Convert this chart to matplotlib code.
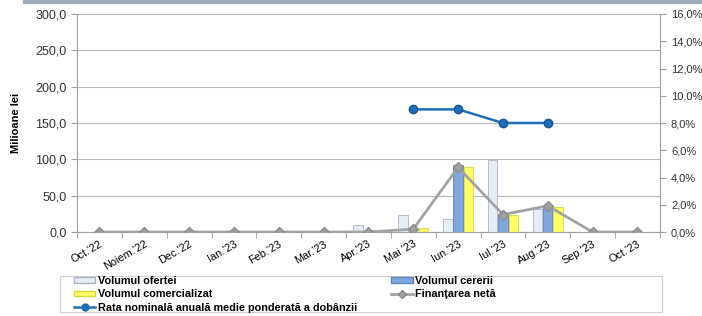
import numpy as np
import matplotlib
matplotlib.use("Agg")
import matplotlib.pyplot as plt
from matplotlib.ticker import FuncFormatter, MultipleLocator
from matplotlib.lines import Line2D
from matplotlib.patches import Rectangle

plt.rcParams['font.family'] = ['Liberation Sans', 'DejaVu Sans']

months = ["Oct.'22", "Noiem.'22", "Dec.'22", "Ian.'23", "Feb.'23", "Mar.'23", "Apr.'23",
          "Mai '23", "Iun.'23", "Iul.'23", "Aug.'23", "Sep.'23", "Oct.'23"]
oferta = [0, 0, 0, 0, 0, 0, 9, 24, 18, 99, 31, 0, 0]
cerere = [0, 0, 0, 0, 0, 0, 0, 0, 92, 25, 35, 0, 0]
comercializat = [0, 0, 0, 0, 0, 0, 0, 6, 90, 24, 35, 0, 0]
finantare = [0, 0, 0, 0, 0, 0, 0, 4, 89, 24, 36, 0, 0]
rata = [np.nan] * 7 + [9.0, 9.0, 8.0, 8.0] + [np.nan] * 2

fig = plt.figure(figsize=(7.02, 3.16), dpi=100)
ax = fig.add_axes([0.1097, 0.2658, 0.8303, 0.6899])
ax2 = ax.twinx()

x = np.arange(len(months))
w = 0.21
off = 0.23
ax.bar(x - off, oferta, w, color='#e6edf7', edgecolor='#a9b4c2', linewidth=0.6, zorder=2)
ax.bar(x, cerere, w, color='#7fa7dd', edgecolor='#5d84b8', linewidth=0.6, zorder=2)
ax.bar(x + off, comercializat, w, color='#ffff66', edgecolor='#d6d63a', linewidth=0.6, zorder=2)
ax.plot(x, finantare, color='#a3a3a3', linewidth=2, marker='D', markersize=5,
        markerfacecolor='#a0a0a0', markeredgecolor='#8c8c8c', zorder=3)
ax2.plot(x, rata, color='#1f6eb8', linewidth=1.8, marker='o', markersize=6,
         markerfacecolor='#1f6eb8', markeredgecolor='#165590', zorder=3)

ax.set_xlim(-0.5, len(months) - 0.5)
ax.set_ylim(0, 300)
ax2.set_ylim(0, 16)
ax.yaxis.set_major_locator(MultipleLocator(50))
ax2.yaxis.set_major_locator(MultipleLocator(2))
ax.yaxis.set_major_formatter(FuncFormatter(lambda v, p: f"{v:.1f}".replace('.', ',')))
ax2.yaxis.set_major_formatter(FuncFormatter(lambda v, p: f"{v:.1f}%".replace('.', ',')))
ax.grid(axis='y', color='#b8b8b8', linewidth=0.8, zorder=0)
ax.set_axisbelow(True)

ax.set_xticks(x)
ax.set_xticklabels(months, rotation=30, ha='right', rotation_mode='anchor', fontsize=7.8)
ax.tick_params(axis='x', length=0, pad=5)
ax.set_xticks(np.arange(-0.5, len(months)), minor=True)
ax.tick_params(axis='x', which='minor', length=4, color='#a0a0a0')
ax.tick_params(axis='y', labelsize=9, colors='#a0a0a0', labelcolor='#333333', length=4)
ax2.tick_params(axis='y', labelsize=8, colors='#a0a0a0', labelcolor='#333333', length=4, pad=4)
for a in (ax, ax2):
    for s in a.spines.values():
        s.set_visible(False)
ax.spines['left'].set_visible(True)
ax.spines['left'].set_color('#a0a0a0')
ax.spines['bottom'].set_visible(True)
ax.spines['bottom'].set_color('#a0a0a0')
ax2.spines['right'].set_visible(True)
ax2.spines['right'].set_color('#a0a0a0')

ax.set_ylabel("Milioane lei", fontsize=8, fontweight='bold', labelpad=10)

handles = [
    Rectangle((0, 0), 1, 1, facecolor='#e6edf7', edgecolor='#a9b4c2'),
    Rectangle((0, 0), 1, 1, facecolor='#ffff66', edgecolor='#d6d63a'),
    Line2D([], [], color='#1f6eb8', linewidth=1.8, marker='o', markersize=5),
    Rectangle((0, 0), 1, 1, facecolor='#7fa7dd', edgecolor='#5d84b8'),
    Line2D([], [], color='#a3a3a3', linewidth=2, marker='D', markersize=4,
           markerfacecolor='#a0a0a0', markeredgecolor='#8c8c8c'),
]
labels = ["Volumul ofertei", "Volumul comercializat",
          "Rata nominală anuală medie ponderată a dobânzii",
          "Volumul cererii", "Finanţarea netă"]
fig.legend(handles, labels, ncol=2, loc='upper left', bbox_to_anchor=(0.0926, 0.154),
           bbox_transform=fig.transFigure, frameon=False,
           prop={'size': 7.8, 'weight': 'bold'}, handlelength=2.0, handleheight=0.4,
           handletextpad=0.2, labelspacing=0.3, columnspacing=3.2, borderpad=0.3)

fig.add_artist(Rectangle((60 / 702, 4 / 316), 602 / 702, 36 / 316, transform=fig.transFigure,
                         fill=False, edgecolor='#d0d0d0', linewidth=0.8))
fig.add_artist(Line2D([0.035, 1.0], [0.995, 0.995], transform=fig.transFigure,
                      color='#9aaabb', linewidth=3))

fig.savefig("out.png", dpi=100)
